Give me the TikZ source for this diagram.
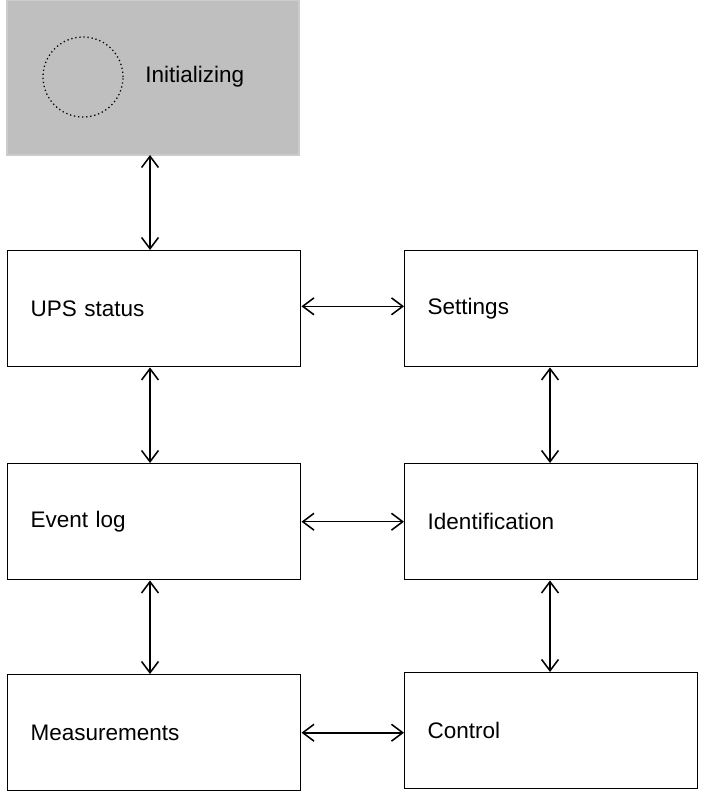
\documentclass[tikz,border=0pt]{standalone}
\usepackage{fontspec}
\setmainfont{Liberation Sans}
\usetikzlibrary{arrows.meta}

\definecolor{initcol}{rgb}{0.75,0.75,0.75}
\definecolor{initborder}{rgb}{0.80,0.80,0.80}

\begin{document}
\begin{tikzpicture}[
    x=0.025cm, y=-0.025cm,
    box/.style={draw, line width=1pt, anchor=north west, minimum width=7.325cm, minimum height=2.9cm, text width=6.175cm, inner xsep=0.575cm, align=left, font=\fontsize{16}{19}\selectfont},
    dotcircle/.style={draw, circle, dotted, line width=0.9pt, minimum size=2cm, inner sep=0pt},
    linkarrow/.style={{Straight Barb[length=8pt,width=12pt]}-{Straight Barb[length=8pt,width=12pt]}, line width=1.1pt}
  ]
  \useasboundingbox (0,0) rectangle (703,793);

  \coordinate (upsp) at (7, 250);
  \coordinate (setp) at (404, 250);
  \coordinate (evtp) at (7, 463);
  \coordinate (idp) at (404, 463);
  \coordinate (meap) at (7, 674);
  \coordinate (ctlp) at (404, 672);

  % Initializing
  \fill[initcol, draw=initborder, line width=0.9pt] (7,0) rectangle (299,155);
  \node[dotcircle] (spin) at (83,77) {};
  \node[anchor=west, inner sep=0pt, font=\fontsize{16}{19}\selectfont] (initlbl) at (145,77) {Initializing};
  \coordinate (init) at (150,155);
  \coordinate (rcol) at (550,0);

  % Screens
  \node[box] (ups) at (upsp) {UPS status};
  \node[box] (set) at (setp) {Settings};
  \node[box] (evt) at (evtp) {Event log};
  \node[box] (id) at (idp) {Identification};
  \node[box] (mea) at (meap) {Measurements};
  \node[box] (ctl) at (ctlp) {Control};

  % Links
  \draw[linkarrow] (init) -- (init |- ups.north);
  \draw[linkarrow] ([yshift=0.06cm]ups.east) -- ([yshift=0.06cm]ups.east -| set.west);
  \draw[linkarrow] (init |- ups.south) -- (init |- evt.north);
  \draw[linkarrow] (rcol |- set.south) -- (rcol |- id.north);
  \draw[linkarrow] (evt.east) -- (evt.east -| id.west);
  \draw[linkarrow] (init |- evt.south) -- (init |- mea.north);
  \draw[linkarrow] (rcol |- id.south) -- (rcol |- ctl.north);
  \draw[linkarrow] (mea.east) -- (mea.east -| ctl.west);

\end{tikzpicture}
\end{document}
